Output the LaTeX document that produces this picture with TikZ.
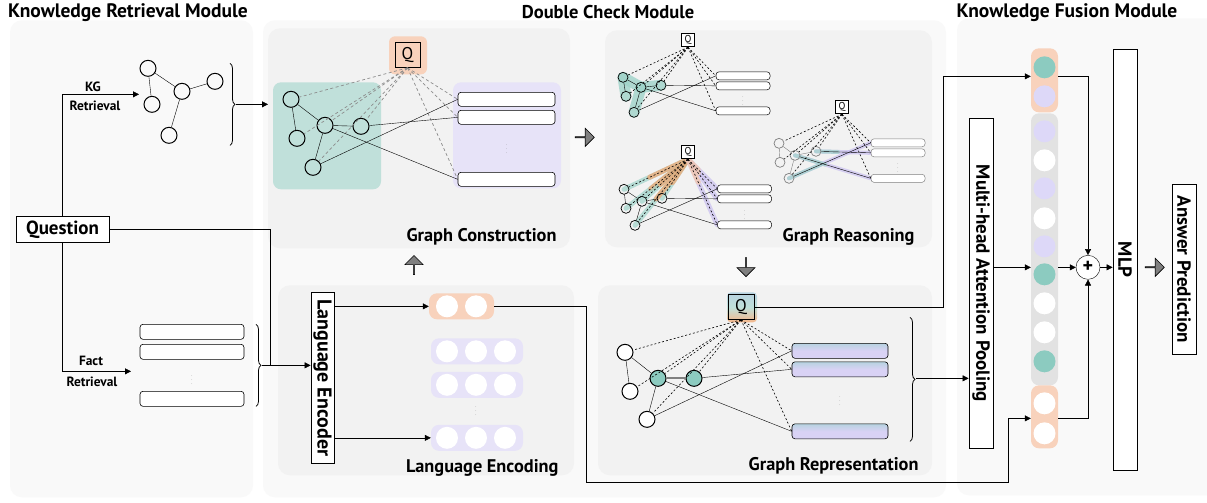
\documentclass[tikz,border=0pt]{standalone}
\usepackage{fontspec}
\setmainfont{PT Sans}
\usetikzlibrary{positioning,arrows.meta,decorations.pathreplacing,shapes.arrows,calc,backgrounds}
\definecolor{panelbg}{HTML}{F9F9F9}
\definecolor{subbg}{HTML}{F2F2F2}
\definecolor{tealbg}{HTML}{C0E0DA}
\definecolor{tealdot}{HTML}{8CCBC0}
\definecolor{tealglow}{HTML}{9FD3C9}
\definecolor{lavbg}{HTML}{E7E3F8}
\definecolor{lavdot}{HTML}{DDD8F8}
\definecolor{lavglow}{HTML}{C9BFF0}
\definecolor{peach}{HTML}{F8D2BC}
\definecolor{orangeglow}{HTML}{F4A46C}
\definecolor{colgray}{HTML}{E2E2E2}
\definecolor{arrgray}{HTML}{7F7F7F}
\definecolor{dashgray}{HTML}{8C8C8C}
\definecolor{repfact}{HTML}{D9D2F5}
\definecolor{reptop}{HTML}{B7D2E0}

\begin{document}
\begin{tikzpicture}[x=1pt, y=-1pt, line width=0.8pt, >={Triangle[length=6pt,width=6pt]},
	panel/.style={fill=panelbg, rounded corners=12pt},
	sub/.style={fill=subbg, rounded corners=12pt},
	title/.style={font=\bfseries\fontsize{19.5}{19.5}\selectfont},
	capt/.style={font=\bfseries\fontsize{18.3}{18.3}\selectfont, anchor=base east},
	lbl/.style={font=\bfseries\fontsize{13.4}{13.4}\selectfont},
	main/.style={draw, circle, minimum size=16pt, inner sep=0pt, line width=1pt},
	mini/.style={draw, circle, minimum size=10pt, inner sep=0pt, line width=0.7pt},
	fact/.style={draw, rounded corners=3pt, minimum width=97pt, minimum height=14pt, inner sep=0pt, fill=white, line width=0.6pt},
	minifact/.style={draw, rounded corners=3pt, minimum width=54pt, minimum height=8pt, inner sep=0pt, fill=white, line width=0.5pt},
	tag/.style={draw, fill=white, inner sep=0pt, line width=0.8pt, font=\bfseries\fontsize{19}{19}\selectfont},
	qbox/.style={draw, minimum size=25pt, inner sep=0pt, font=\fontsize{17}{17}\selectfont, line width=1pt},
	miniq/.style={draw, fill=white, minimum size=13pt, inner sep=0pt, font=\fontsize{10}{10}\selectfont, line width=0.8pt},
	att/.style={dash pattern=on 3pt off 2.5pt, draw=dashgray, line width=0.7pt},
	miniatt/.style={dash pattern=on 2pt off 2pt, line width=0.6pt},
	cell/.style={circle, minimum size=22pt, inner sep=0pt, fill=white},
	pill/.style={rounded corners=8pt, inner sep=0pt},
	blk/.style={single arrow, draw, fill=arrgray, minimum height=19pt, minimum width=18pt, single arrow head extend=4.5pt, inner sep=0pt, line width=0.6pt},
	glow/.style={line width=7pt, line cap=round, line join=round, opacity=0.7},
	brc/.style={decorate, decoration={brace, amplitude=5pt}, line width=0.8pt},
	vd/.style={text=gray, inner sep=0pt, font=\tiny}]
	\begin{pgfonlayer}{background}
		\path[use as bounding box, fill=white] (0,0) rectangle (1207,497);
		\fill[panel] (10,15) rectangle (253,492);
		\fill[panel] (263,15) rectangle (946,492);
		\fill[panel] (957,13) rectangle (1225,490);
		\fill[sub] (268,23) rectangle (570,243);
		\fill[sub] (605,25) rectangle (932,242);
		\fill[sub] (278,280) rectangle (574,470);
		\fill[sub] (598,280) rectangle (932,470);
		\fill[tealbg, rounded corners=8pt] (273,77) rectangle (381,184);
		\fill[lavbg, rounded corners=8pt] (453,77) rectangle (561,183);
		\fill[peach, rounded corners=6pt] (389,31) rectangle (427,69);
		\shade[top color=reptop, bottom color=orangeglow!80, middle color=tealbg, rounded corners=4pt] (727,287) rectangle (757,317);
	\end{pgfonlayer}

	\node[title] (krm) at (128,7) {Knowledge Retrieval Module};
	\node[title, font=\bfseries\fontsize{18.5}{18.5}\selectfont] (dcm) at (608,7) {Double Check Module};
	\node[title] (kfm) at (1067,7) {Knowledge Fusion Module};

	\node[tag, minimum width=93pt, minimum height=26pt] (q) at (62.5,224) {Question};
	\node[main] (k1) at (148,63) {};
	\node[main] (k2) at (152,99) {};
	\node[main] (k3) at (182,86) {};
	\node[main] (k4) at (215,76) {};
	\node[main] (k5) at (169,130) {};
	\draw (k1) -- (k2);
	\draw (k1) -- (k3);
	\draw (k3) -- (k4);
	\draw (k3) -- (k5);
	\coordinate (kgend) at (139,89);
	\draw[->] (q.north) |- (kgend);
	\node[lbl] (kgl) at (93,81) {KG};
	\node[lbl] (kgr) at (95,100) {Retrieval};
	\draw[brc] (230,58) -- (230,140);
	\coordinate (kgtip) at (236,99);
	\coordinate (gcin) at (268,99);
	\draw[->] (kgtip) -- (gcin);

	\coordinate (factend) at (131,366);
	\draw[->] (q.south) |- (factend);
	\node[lbl] (fl) at (91,356) {Fact};
	\node[lbl] (fr) at (92,376) {Retrieval};
	\node[fact, minimum width=104pt, minimum height=15pt] (f1) at (192,326.5) {};
	\node[fact, minimum width=104pt, minimum height=15pt] (f2) at (192,346.5) {};
	\node[fact, minimum width=104pt, minimum height=15pt] (f3) at (192,393.5) {};
	\node[vd] (fdots) at (192,372) {$\vdots$};
	\draw[brc] (256,319) -- (256,401);
	\coordinate (ftip) at (262,360);
	\coordinate (junc) at (270,360);

	\node[qbox] (qa) at (407.5,49.5) {Q};
	\node[main] (c1) at (291,94) {};
	\node[main] (c2) at (297,133) {};
	\node[main] (c3) at (325,120) {};
	\node[main] (c4) at (361,121) {};
	\node[main] (c5) at (313,162) {};
	\node[fact] (g1) at (506.5,94) {};
	\node[fact] (g2) at (506.5,112) {};
	\node[fact] (g3) at (506.5,174) {};
	\node[vd] (gdots) at (506.5,141) {$\vdots$};
	\foreach \t in {c1,c2,c3,c4,c5,g1.west,g2.west,g3.west}
		\draw[att] (qa.south) -- (\t);
	\draw (c1) -- (c2);
	\draw (c1) -- (c3);
	\draw (c3) -- (c4);
	\draw (c3) -- (c5);
	\draw (c5) -- (g1.west);
	\draw (c4) -- (g2.west);
	\draw (c3) -- (g3.west);
	\node[capt] (gct) at (560,236) {Graph Construction};

	\node[miniq] (qr1) at (688,35) {Q};
	\node[mini] (a1) at (623,72) {};
	\node[mini] (a2) at (626,91) {};
	\node[mini] (a3) at (641,82) {};
	\node[mini] (a4) at (661,80) {};
	\node[mini] (a5) at (634,107) {};
	\node[minifact] (fa1) at (743,70.5) {};
	\node[minifact] (fa2) at (743,80.5) {};
	\node[minifact] (fa3) at (743,105.5) {};
	\node[vd] (fadots) at (743,93) {$\vdots$};
	\foreach \t in {a1,a2,a3,a4,a5,fa1.west,fa2.west,fa3.west}
		\draw[miniatt] (qr1.south) -- (\t);
	\draw (a1) -- (a2);
	\draw (a1) -- (a3);
	\draw (a3) -- (a4);
	\draw (a3) -- (a5);
	\draw (a5) -- (fa1.west);
	\draw (a4) -- (fa2.west);
	\draw (a3) -- (fa3.west);

	\node[miniq] (qr2) at (688,147) {Q};
	\node[mini] (b1) at (624,184) {};
	\node[mini] (b2) at (626,203) {};
	\node[mini] (b3) at (642,196) {};
	\node[mini] (b4) at (662,193) {};
	\node[mini] (b5) at (635,220) {};
	\node[minifact] (fb1) at (744.5,183.5) {};
	\node[minifact] (fb2) at (744.5,193.5) {};
	\node[minifact] (fb3) at (744.5,219.5) {};
	\node[vd] (fbdots) at (744.5,207) {$\vdots$};
	\foreach \t in {b1,b2,b3,b4,b5,fb1.west,fb2.west,fb3.west}
		\draw[miniatt] (qr2.south) -- (\t);
	\draw (b1) -- (b2);
	\draw (b1) -- (b3);
	\draw (b3) -- (b4);
	\draw (b3) -- (b5);
	\draw (b5) -- (fb1.west);
	\draw (b4) -- (fb2.west);
	\draw (b3) -- (fb3.west);

	\node[miniq] (qr3) at (842,102) {Q};
	\node[mini, draw=gray] (d1) at (779,138) {};
	\node[mini, draw=gray] (d2) at (780,157) {};
	\node[mini, draw=gray] (d3) at (795,150) {};
	\node[mini, draw=gray] (d4) at (816,146) {};
	\node[mini, draw=gray] (d5) at (789,173) {};
	\node[minifact, draw=gray] (fd1) at (898,137.5) {};
	\node[minifact, draw=gray] (fd2) at (898,147.5) {};
	\node[minifact, draw=gray] (fd3) at (898,173) {};
	\node[vd] (fddots) at (898,160) {$\vdots$};
	\foreach \t in {d1,d2,d3,d4,d5,fd1.west,fd2.west,fd3.west}
		\draw[miniatt] (qr3.south) -- (\t);
	\draw[gray] (d1) -- (d2);
	\draw[gray] (d1) -- (d3);
	\draw[gray] (d3) -- (d4);
	\draw[gray] (d3) -- (d5);
	\draw (d5) -- (fd1.west);
	\draw (d4) -- (fd2.west);
	\draw (d3) -- (fd3.west);
	\node[capt] (grt) at (918,236) {Graph Reasoning};

	\begin{pgfonlayer}{background}
		\foreach \s/\t in {a1/a2,a1/a3,a3/a4,a3/a5}
			\draw[glow, tealglow, line width=11pt, opacity=0.8] (\s.center) -- (\t.center);
		\foreach \t in {b1,b2,b3,b4,b5} {
			\draw[glow, tealglow, line width=5pt] (qr2.south) -- (\t.center);
			\draw[glow, orangeglow, line width=5pt] (qr2.south) -- ($(qr2.south)!0.6!(\t.center)$);
		}
		\foreach \t in {fb1,fb2,fb3} {
			\draw[glow, lavglow, line width=5pt] (qr2.south) -- (\t.west);
			\draw[glow, orangeglow!60, line width=5pt] (qr2.south) -- ($(qr2.south)!0.35!(\t.west)$);
		}
		\foreach \s/\t in {d5/fd1,d4/fd2,d3/fd3} {
			\draw[glow, lavglow, line width=4pt] (\s.center) -- (\t.west);
			\draw[glow, tealglow, line width=4pt] (\s.center) -- ($(\s.center)!0.4!(\t.west)$);
		}
	\end{pgfonlayer}

	\node[tag, rotate=-90, minimum width=171pt, minimum height=23pt, font=\bfseries\fontsize{20}{20}\selectfont] (enc) at (322.5,372.5) {Language Encoder};
	\draw (q.east) -| (junc);
	\draw[->] (ftip) -- (enc.south |- junc);
	\node[pill, fill=peach, minimum width=65pt, minimum height=26pt] (qp) at (461.5,301) {};
	\node[cell] (qp1) at (447,301) {};
	\node[cell] (qp2) at (476,301) {};
	\foreach \y/\r in {346/1,379.5/2,432.5/3} {
		\node[pill, fill=lavbg, minimum width=92pt, minimum height=26pt] (lp\r) at (477,\y) {};
		\foreach \x/\c in {447/1,476/2,505/3}
			\node[cell] (l\r\c) at (\x,\y) {};
	}
	\node[vd] (ldots) at (476,403) {$\vdots$};
	\draw[->] (enc.north |- qp) -- (qp.west);
	\draw[->] (enc.north |- lp3) -- (lp3.west);
	\node[capt] (let) at (562,467) {Language Encoding};

	\node[qbox, minimum width=26pt] (qg) at (741,301.5) {Q};
	\node[main, fill=white] (e1) at (625,347) {};
	\node[main, fill=white] (e2) at (630,386) {};
	\node[main, fill=tealdot] (e3) at (658,373) {};
	\node[main, fill=tealdot] (e4) at (694,373) {};
	\node[main, fill=white] (e5) at (647,414) {};
	\node[fact, top color=reptop, bottom color=repfact, middle color=repfact, minimum width=96pt, minimum height=15pt] (h1) at (840,345.5) {};
	\node[fact, top color=reptop, bottom color=repfact, middle color=repfact, minimum width=96pt, minimum height=15pt] (h2) at (840,364) {};
	\node[fact, top color=reptop, bottom color=repfact, middle color=repfact, minimum width=96pt, minimum height=15pt] (h3) at (840,426) {};
	\node[vd] (hdots) at (840,393) {$\vdots$};
	\foreach \t in {e1,e2,e3,e4,e5,h1.west,h2.west,h3.west}
		\draw[miniatt] (qg.south) -- (\t);
	\draw (e1) -- (e2);
	\draw (e1) -- (e3);
	\draw[gray, line width=2pt] (e3) -- (e4);
	\draw (e3) -- (e5);
	\draw (e5) -- (h1.west);
	\draw (e4) -- (h2.west);
	\draw (e3) -- (h3.west);
	\node[capt] (rpt) at (922,465) {Graph Representation};

	\node[blk] (gc2gr) at (584.5,132) {};
	\node[blk, shape border rotate=90] (le2gc) at (414,260) {};
	\node[blk, shape border rotate=270] (gr2rep) at (746,261.5) {};

	\node[pill, fill=peach, minimum width=27pt, minimum height=64pt] (ftop) at (1044.5,75) {};
	\node[pill, fill=colgray, minimum width=27pt, minimum height=272pt] (fcol) at (1044.5,244) {};
	\node[pill, fill=peach, minimum width=27pt, minimum height=63pt] (fbot) at (1044.5,411.5) {};
	\node[cell, fill=tealdot] (t1) at (1044.5,62) {};
	\node[cell, fill=lavdot] (t2) at (1044.5,91) {};
	\foreach \y/\c [count=\i] in {126/lavdot,155/white,183/lavdot,213/white,241/lavdot,269/tealdot,298/white,327/white,356/tealdot}
		\node[cell, fill=\c] (v\i) at (1044.5,\y) {};
	\node[cell] (u1) at (1044.5,398) {};
	\node[cell] (u2) at (1044.5,428) {};
	\node[tag, rotate=-90, minimum width=330pt, minimum height=24pt] (map) at (981,278) {Multi-head Attention Pooling};
	\node[draw, circle, fill=white, minimum size=24pt, inner sep=0pt, font=\bfseries\fontsize{20}{20}\selectfont] (plus) at (1088,262) {+};
	\node[tag, rotate=-90, minimum width=421pt, minimum height=24pt] (mlp) at (1125,254.5) {MLP};
	\node[blk] (mlp2ans) at (1154.5,262) {};
	\node[tag, rotate=-90, minimum width=170pt, minimum height=24pt] (ans) at (1184,264) {Answer Prediction};

	\draw[brc] (910,312) -- (910,436);
	\coordinate (reptip) at (916,373);
	\draw[->] (reptip) -- (map.south |- reptip);
	\coordinate (toprow) at (943,71);
	\draw[->] (qg.east) -| (toprow) -- (ftop.west |- toprow);
	\coordinate (lowbend) at (586,477);
	\coordinate (lowturn) at (1008,413);
	\draw[->] (qp.east) -| (lowbend) -| (lowturn) -- (fbot.west |- lowturn);
	\draw[->] (map.north |- plus) -- (fcol.west |- plus);
	\draw[->] (fcol.east |- plus) -- (plus.west);
	\draw[->] (ftop.east |- toprow) -| (plus.north);
	\draw[->] (fbot.east |- lowturn) -| (plus.south);
	\draw[->] (plus.east) -- (mlp.south |- plus);
\end{tikzpicture}
\end{document}
